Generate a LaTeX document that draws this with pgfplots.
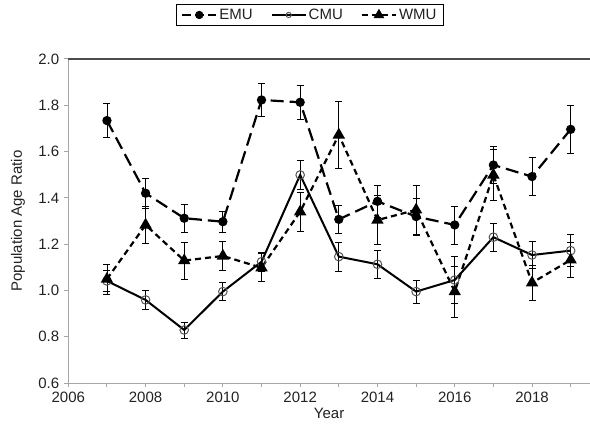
\documentclass[border=0pt]{standalone}
\usepackage{fontspec}
\setmainfont{Liberation Sans}
\usepackage{pgfplots}
\pgfplotsset{compat=1.18}
\definecolor{txt}{HTML}{222222}
\definecolor{axgray}{HTML}{A6A6A6}
\definecolor{cmugray}{HTML}{555555}
\pgfplotsset{ebars/.style={
  error bars/y dir=both, error bars/y explicit,
  error bars/error bar style={black, line width=0.8bp, solid},
  error bars/error mark options={rotate=90, mark size=3.5bp, black, line width=0.8bp, solid}}}
\begin{document}
\fontsize{15bp}{18bp}\selectfont
\begin{tikzpicture}
\begin{axis}[
  name=ax,
  scale only axis, width=521.7bp, height=324bp,
  xmin=2006, xmax=2019.5, ymin=0.6, ymax=2.0,
  axis lines=left,
  axis line style={-, axgray, line width=1bp},
  xtick={2006,2008,2010,2012,2014,2016,2018},
  minor xtick={2007,2009,2011,2013,2015,2017,2019},
  ytick={0.6,0.8,1.0,1.2,1.4,1.6,1.8,2.0},
  yticklabel style={/pgf/number format/.cd, fixed, fixed zerofill, precision=1},
  xticklabel style={/pgf/number format/.cd, 1000 sep={}},
  /pgf/number format/assume math mode=true,
  tick align=outside,
  major tick length=4bp, minor tick length=4bp,
  tick style={axgray, line width=1bp},
  ticklabel style={text=txt},
  xlabel={Year}, ylabel={Population Age Ratio},
  every axis x label/.style={at={(axis description cs:0.5,-0.0926)}, anchor=center, text=txt},
  every axis y label/.style={at={(axis description cs:-0.0964,0.5)}, rotate=90, anchor=center, text=txt},
  legend columns=3,
  legend style={at={(axis description cs:0.463,1.1698)}, anchor=north, draw=black, line width=1.3bp,
    inner xsep=5bp, inner ysep=2bp, text=txt, nodes={inner xsep=2bp},
    /tikz/every even column/.append style={column sep=16bp}},
  legend image code/.code={\draw[#1, mark=none] plot coordinates {(0bp,0bp) (34bp,0bp)};
     \draw[#1] plot coordinates {(17bp,0bp)};},
]
\addplot[black, line width=2.2bp, dash pattern=on 13bp off 6bp, mark=*, mark size=3.5bp,
  mark options={solid, fill=black}, ebars, legend image post style={mark size=3bp, dash pattern=on 9bp off 4bp}]
  table[x=x, y=y, y error=e] {
x y e
2007 1.734 0.072
2008 1.420 0.065
2009 1.312 0.060
2010 1.297 0.045
2011 1.823 0.072
2012 1.813 0.075
2013 1.307 0.062
2014 1.385 0.068
2015 1.319 0.080
2016 1.283 0.082
2017 1.542 0.080
2018 1.492 0.083
2019 1.696 0.102
};
\addlegendentry{EMU}
\addplot[black, line width=2bp, mark=o, mark size=4.3bp,
  mark options={solid, draw=cmugray, line width=1bp}, ebars, legend image post style={mark size=2.6bp}]
  table[x=x, y=y, y error=e] {
x y e
2007 1.041 0.045
2008 0.959 0.042
2009 0.829 0.035
2010 0.995 0.040
2011 1.124 0.040
2012 1.499 0.063
2013 1.146 0.063
2014 1.113 0.060
2015 0.995 0.050
2016 1.045 0.100
2017 1.230 0.060
2018 1.153 0.058
2019 1.172 0.070
};
\addlegendentry{CMU}
\addplot[black, line width=2.2bp, dash pattern=on 6bp off 4bp, mark=triangle*, mark size=5bp,
  mark options={solid, fill=black}, ebars, legend image post style={mark size=4bp}]
  table[x=x, y=y, y error=e] {
x y e
2007 1.049 0.065
2008 1.283 0.078
2009 1.129 0.080
2010 1.149 0.062
2011 1.098 0.060
2012 1.340 0.085
2013 1.672 0.145
2014 1.304 0.105
2015 1.348 0.105
2016 0.995 0.110
2017 1.499 0.110
2018 1.033 0.075
2019 1.132 0.075
};
\addlegendentry{WMU}
\end{axis}
\draw[black!70, line width=1.2bp] (ax.north west) -- (ax.north east);
\pgfresetboundingbox
\path (-68.3bp,-50bp) rectangle (521.7bp,383bp);
\end{tikzpicture}
\end{document}
